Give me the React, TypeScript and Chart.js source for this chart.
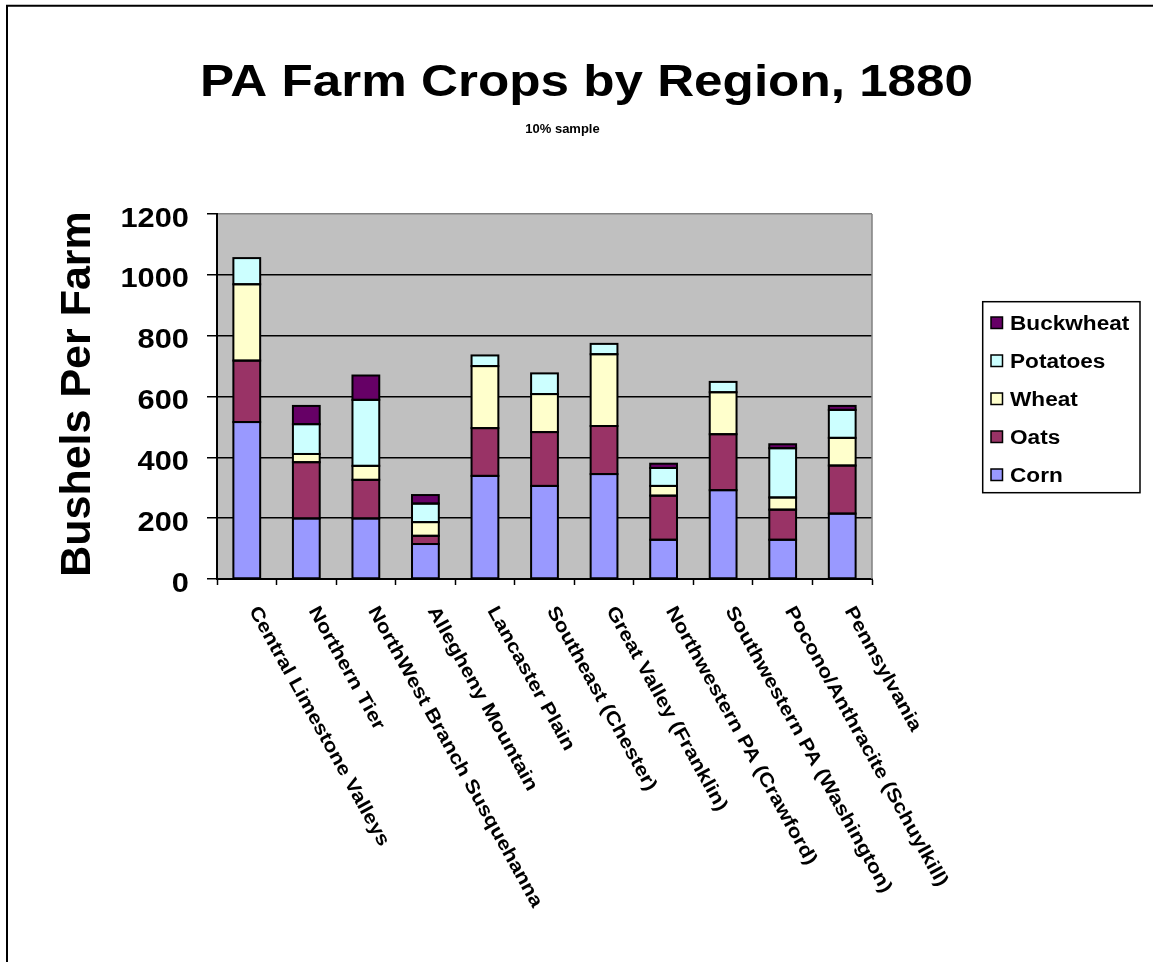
import React, { useEffect, useRef } from "react";
import { Chart, registerables } from "chart.js";

Chart.register(...registerables);

const regions = [
  "Central Limestone Valleys",
  "Northern Tier",
  "NorthWest Branch Susquehanna",
  "Allegheny Mountain",
  "Lancaster Plain",
  "Southeast (Chester)",
  "Great Valley (Franklin)",
  "Northwestern PA (Crawford)",
  "Southwestern PA (Washington)",
  "Pocono/Anthracite (Schuylkill)",
  "Pennsylvania",
];

const corn = [516, 199, 199, 115, 339, 306, 345, 129, 292, 129, 215];
const oats = [202, 185, 127, 27, 157, 177, 158, 145, 184, 99, 158];
const wheat = [251, 27, 46, 45, 204, 125, 236, 32, 138, 40, 91];
const potatoes = [86, 98, 217, 61, 35, 68, 34, 59, 34, 162, 92];
const buckwheat = [0, 60, 80, 28, 0, 0, 0, 14, 0, 13, 13];

const yTicks = [0, 200, 400, 600, 800, 1000, 1200];

const titleText = "PA Farm Crops by Region, 1880";
const subtitleText = "10% sample";
const yTitleText = "Bushels Per Farm";

const seriesNames = ["Corn", "Oats", "Wheat", "Potatoes", "Buckwheat"];
const seriesColors = ["#9999FF", "#993366", "#FFFFCC", "#CCFFFF", "#660066"];

const FONT = '"Liberation Sans", Arial, Helvetica, sans-serif';

function drawText(
  ctx: CanvasRenderingContext2D,
  text: string,
  x: number,
  y: number,
  size: number,
  align: CanvasTextAlign,
  sx: number,
  baseline: CanvasTextBaseline = "alphabetic"
) {
  ctx.save();
  ctx.translate(x, y);
  ctx.scale(sx, 1);
  ctx.font = `bold ${size}px ${FONT}`;
  ctx.fillStyle = "#000";
  ctx.textAlign = align;
  ctx.textBaseline = baseline;
  ctx.fillText(text, 0, 0);
  ctx.restore();
}

const decorPlugin = {
  id: "decor",
  beforeDraw(chart: any) {
    const { ctx, chartArea } = chart;
    ctx.save();
    ctx.fillStyle = "#FFFFFF";
    ctx.fillRect(0, 0, chart.width, chart.height);
    // outer frame
    ctx.strokeStyle = "#000";
    ctx.lineWidth = 2;
    ctx.beginPath();
    ctx.moveTo(7, chart.height + 2);
    ctx.lineTo(7, 5.7);
    ctx.lineTo(chart.width + 2, 5.7);
    ctx.stroke();
    // plot background
    ctx.fillStyle = "#C0C0C0";
    ctx.fillRect(
      chartArea.left,
      chartArea.top,
      chartArea.right - chartArea.left,
      chartArea.bottom - chartArea.top
    );
    ctx.restore();
  },
  afterDatasetsDraw(chart: any) {
    const { ctx } = chart;
    ctx.save();
    ctx.strokeStyle = "#000";
    ctx.lineWidth = 2;
    chart.data.datasets.forEach((_: any, di: number) => {
      const meta = chart.getDatasetMeta(di);
      meta.data.forEach((el: any) => {
        const { x, y, base, width } = el.getProps(["x", "y", "base", "width"], true);
        const h = base - y;
        if (Math.abs(h) < 0.5) return;
        ctx.strokeRect(x - width / 2, Math.min(y, base), width, Math.abs(h));
      });
    });
    ctx.restore();
  },
  afterDraw(chart: any) {
    const { ctx, chartArea } = chart;
    const xScale = chart.scales.x;
    const yScale = chart.scales.y;
    ctx.save();
    // right plot border (gray)
    ctx.strokeStyle = "#808080";
    ctx.lineWidth = 1.5;
    ctx.beginPath();
    ctx.moveTo(chartArea.right, chartArea.top);
    ctx.lineTo(chartArea.right, chartArea.bottom);
    ctx.stroke();

    // title & subtitle
    drawText(ctx, titleText, 586.5, 96, 45, "center", 1.138);
    drawText(ctx, subtitleText, 562.5, 133.3, 13, "center", 1.0);

    // y-axis title
    ctx.save();
    ctx.translate(90, 394);
    ctx.rotate(-Math.PI / 2);
    ctx.font = `bold 43px ${FONT}`;
    ctx.fillStyle = "#000";
    ctx.textAlign = "center";
    ctx.textBaseline = "alphabetic";
    ctx.fillText(yTitleText, 0, 0);
    ctx.restore();

    // y tick labels
    yTicks.forEach((v) => {
      const py = yScale.getPixelForValue(v);
      drawText(ctx, String(v), 189, py + 12.5, 28, "right", 1.1);
    });

    // x labels, rotated clockwise
    const ang = (61 * Math.PI) / 180;
    regions.forEach((lab, i) => {
      const px = xScale.getPixelForValue(i);
      ctx.save();
      ctx.translate(px + 6.5, 608);
      ctx.rotate(ang);
      ctx.scale(1.15, 1);
      ctx.font = `bold 19px ${FONT}`;
      ctx.fillStyle = "#000";
      ctx.textAlign = "left";
      ctx.textBaseline = "middle";
      ctx.fillText(lab, 0, 0);
      ctx.restore();
    });

    // legend
    ctx.fillStyle = "#FFFFFF";
    ctx.fillRect(982.7, 301.7, 157.3, 191);
    ctx.strokeStyle = "#000";
    ctx.lineWidth = 1.5;
    ctx.strokeRect(982.7, 301.7, 157.3, 191);
    const order = [4, 3, 2, 1, 0];
    order.forEach((si, row) => {
      const cy = 323 + row * 38;
      ctx.fillStyle = seriesColors[si];
      ctx.fillRect(991, cy - 6, 11.5, 11.5);
      ctx.strokeStyle = "#000";
      ctx.lineWidth = 1.5;
      ctx.strokeRect(991, cy - 6, 11.5, 11.5);
      drawText(ctx, seriesNames[si], 1010, cy + 7, 20, "left", 1.13);
    });
    ctx.restore();
  },
};

export default function App() {
  const ref = useRef<HTMLCanvasElement | null>(null);

  useEffect(() => {
    if (!ref.current) return;
    const data = [corn, oats, wheat, potatoes, buckwheat];
    const chart = new Chart(ref.current, {
      type: "bar",
      data: {
        labels: regions,
        datasets: data.map((d, i) => ({
          label: seriesNames[i],
          data: d,
          backgroundColor: seriesColors[i],
          borderWidth: 0,
          categoryPercentage: 1,
          barPercentage: 0.45,
        })),
      },
      options: {
        responsive: false,
        animation: false,
        devicePixelRatio: 1,
        layout: {
          padding: { left: 207, top: 214, right: 281, bottom: 377 },
        },
        plugins: {
          legend: { display: false },
          title: { display: false },
          tooltip: { enabled: false },
        },
        scales: {
          x: {
            stacked: true,
            offset: true,
            ticks: { display: false },
            grid: {
              display: true,
              drawOnChartArea: false,
              drawTicks: true,
              tickLength: 6,
              tickColor: "#000",
              tickWidth: 1.5,
            },
            border: { display: true, color: "#000", width: 2 },
          },
          y: {
            stacked: true,
            min: 0,
            max: 1200,
            ticks: { display: false, stepSize: 200 },
            grid: {
              display: true,
              drawOnChartArea: true,
              drawTicks: true,
              tickLength: 10,
              tickColor: "#000",
              tickWidth: 1.5,
              lineWidth: 1.5,
              color: (c: any) =>
                c.tick && c.tick.value === 1200 ? "#808080" : "#000000",
            },
            border: { display: true, color: "#000", width: 2 },
          },
        },
      },
      plugins: [decorPlugin],
    });
    return () => chart.destroy();
  }, []);

  return (
    <div style={{ position: "absolute", left: 0, top: 0, width: 1153, height: 962 }}>
      <canvas ref={ref} width={1153} height={962} style={{ display: "block" }} />
    </div>
  );
}
